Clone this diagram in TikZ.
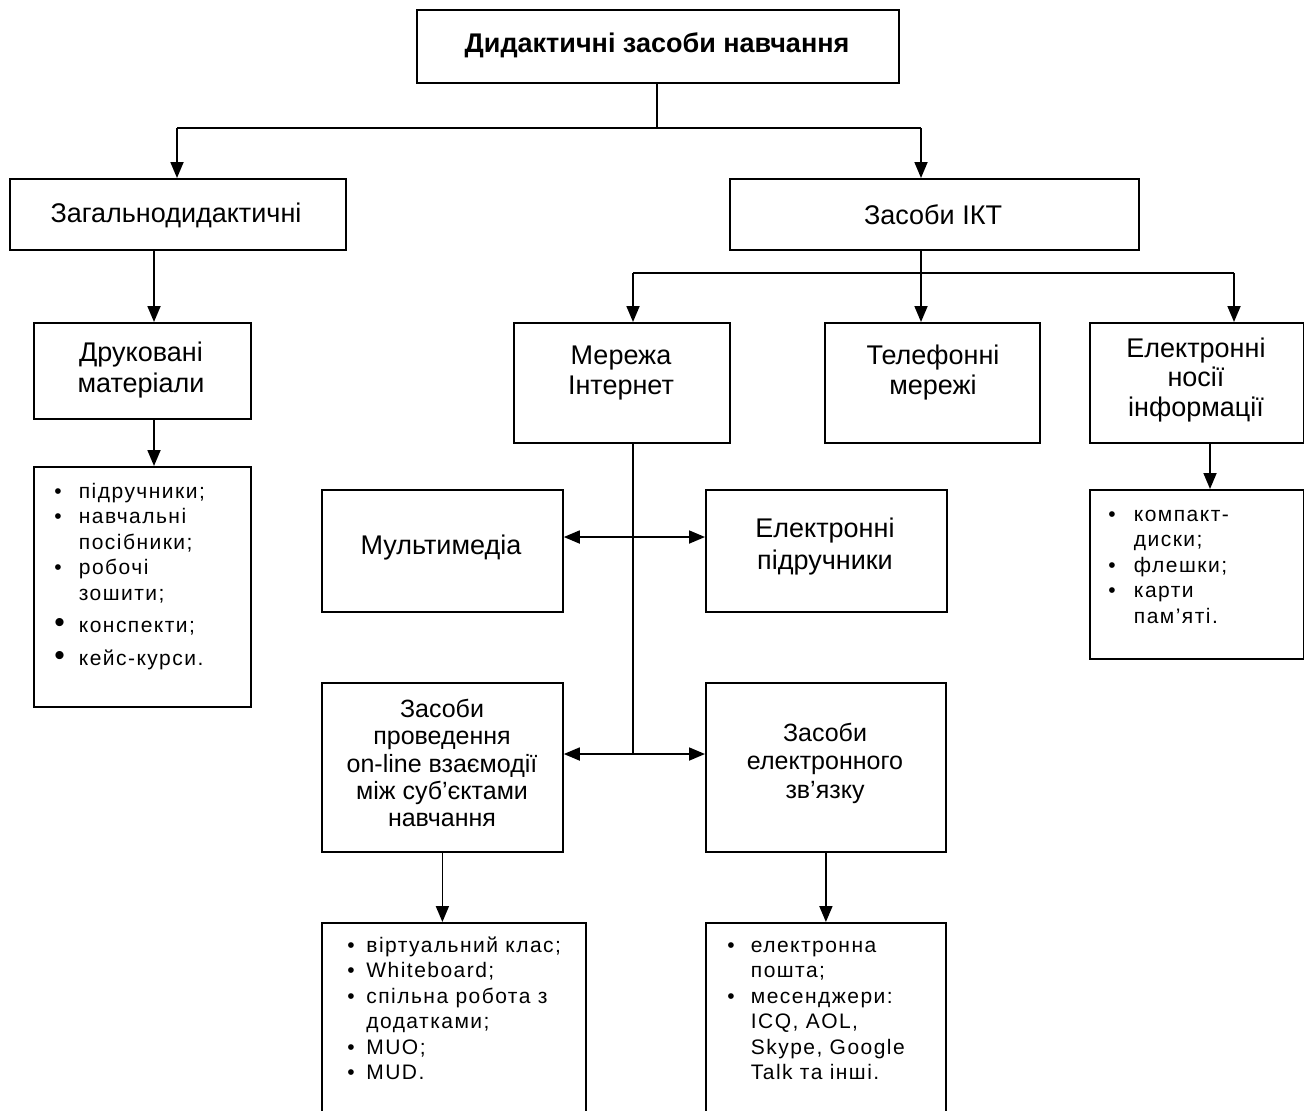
\documentclass[tikz,border=0pt]{standalone}
\usepackage{fontspec}
\setmainfont{Liberation Sans}
\usetikzlibrary{arrows.meta}
\newcommand{\bl}{\textbullet}
\newcommand{\bbl}{{\fontsize{15}{12}\selectfont\textbullet}}
\tikzset{
  frame/.style={draw, line width=0.9pt, inner sep=0pt, anchor=north west},
  lbl/.style={align=center, inner sep=0pt, font=\fontsize{13.5}{15.5}\selectfont},
  lst/.style={anchor=mid west, inner sep=0pt, font=\fontsize{10.5}{12.75}\selectfont\addfontfeature{LetterSpace=7}},
  conn/.style={line width=0.9pt},
  arr/.style={conn, -{Triangle[length=8pt,width=6.5pt]}},
  darr/.style={conn, {Triangle[length=8pt,width=6.5pt]}-{Triangle[length=8pt,width=6.5pt]}}
}
\begin{document}
\begin{tikzpicture}[x=0.5pt,y=-0.5pt]
\useasboundingbox (0,0) rectangle (1304,1110);
% frames
\node[frame, minimum width=241pt, minimum height=36.5pt] (top) at (416,9) {};
\node[frame, minimum width=168pt, minimum height=35.5pt] (zag) at (9,178) {};
\node[frame, minimum width=204.5pt, minimum height=35.5pt] (ikt) at (729,178) {};
\node[frame, minimum width=108.5pt, minimum height=48pt] (dru) at (33,322) {};
\node[frame, minimum width=108.5pt, minimum height=120pt] (druL) at (33,466) {};
\node[frame, minimum width=108pt, minimum height=60pt] (inet) at (513,322) {};
\node[frame, minimum width=107.5pt, minimum height=60pt] (tel) at (824,322) {};
\node[frame, minimum width=107pt, minimum height=60pt] (nos) at (1089,322) {};
\node[frame, minimum width=107pt, minimum height=84.5pt] (nosL) at (1089,489) {};
\node[frame, minimum width=120.5pt, minimum height=61pt] (mul) at (321,489) {};
\node[frame, minimum width=120.5pt, minimum height=61pt] (epid) at (705,489) {};
\node[frame, minimum width=120.5pt, minimum height=84.5pt] (prov) at (321,682) {};
\node[frame, minimum width=120pt, minimum height=84.5pt] (zv) at (705,682) {};
\node[frame, minimum width=132pt, minimum height=102pt] (provL) at (321,922) {};
\node[frame, minimum width=120pt, minimum height=102pt] (zvL) at (705,922) {};
% box texts
\node[lbl, font=\fontsize{13.5}{15.5}\selectfont\bfseries] (t-top) at (657,45) {Дидактичні засоби навчання};
\node[lbl] (t-zag) at (176,215) {Загальнодидактичні};
\node[lbl] (t-ikt) at (933,215) {Засоби ІКТ};
\node[lbl] (t-dru) at (141,370) {Друковані\\матеріали};
\node[lbl, font=\fontsize{13.5}{15}\selectfont] (t-inet) at (621,373) {Мережа\\Інтернет};
\node[lbl, font=\fontsize{13.5}{15}\selectfont] (t-tel) at (933,373) {Телефонні\\мережі};
\node[lbl, font=\fontsize{13.5}{14.75}\selectfont] (t-nos) at (1196,380) {Електронні\\носії\\інформації};
\node[lbl] (t-mul) at (441,548) {Мультимедіа};
\node[lbl, font=\fontsize{13.5}{16}\selectfont] (t-epid) at (825,547) {Електронні\\підручники};
\node[lbl, font=\fontsize{12.5}{13.65}\selectfont] (t-prov) at (442,763) {Засоби\\проведення\\on-line взаємодії\\між суб’єктами\\навчання};
\node[lbl, font=\fontsize{12.5}{14.25}\selectfont] (t-zv) at (825,763) {Засоби\\електронного\\зв’язку};
% lists
\node[lst] (l-dru) at (54,493) {\begin{tabular}[t]{@{}p{12.25pt}@{}l@{}}
\bl & підручники;\\
\bl & навчальні\\
 & посібники;\\
\bl & робочі\\
 & зошити;\\[3.5pt]
\bbl & конспекти;\\[3.5pt]
\bbl & кейс-курси.
\end{tabular}};
\node[lst] (l-nos) at (1108,516) {\begin{tabular}[t]{@{}p{12.75pt}@{}l@{}}
\bl & компакт-\\
 & диски;\\
\bl & флешки;\\
\bl & карти\\
 & пам’яті.
\end{tabular}};
\node[lst] (l-prov) at (347,947) {\begin{tabular}[t]{@{}p{9.5pt}@{}l@{}}
\bl & віртуальний клас;\\
\bl & Whiteboard;\\
\bl & спільна робота з\\
 & додатками;\\
\bl & MUO;\\
\bl & MUD.
\end{tabular}};
\node[lst] (l-zv) at (727,947) {\begin{tabular}[t]{@{}p{11.75pt}@{}l@{}}
\bl & електронна\\
 & пошта;\\
\bl & месенджери:\\
 & ICQ, AOL,\\
 & Skype, Google\\
 & Talk та інші.
\end{tabular}};
% connectors
\coordinate (j1) at (657,128);
\coordinate (jz) at (177,128);
\coordinate (ji) at (921,128);
\draw[conn] (j1 |- top.south) -- (j1);
\draw[conn] (jz) -- (ji);
\draw[arr] (jz) -- (jz |- zag.north);
\draw[arr] (ji) -- (ji |- ikt.north);
\coordinate (j2) at (921,273);
\coordinate (jn) at (633,273);
\coordinate (je) at (1234,273);
\draw[conn] (j2 |- ikt.south) -- (j2);
\draw[conn] (jn) -- (je);
\draw[arr] (jn) -- (jn |- inet.north);
\draw[arr] (j2) -- (j2 |- tel.north);
\draw[arr] (je) -- (je |- nos.north);
\coordinate (xd) at (154,300);
\draw[arr] (xd |- zag.south) -- (xd |- dru.north);
\draw[arr] (xd |- dru.south) -- (xd |- druL.north);
\coordinate (xn) at (1210,460);
\draw[arr] (xn |- nos.south) -- (xn |- nosL.north);
\coordinate (j4) at (633,537);
\coordinate (j3) at (633,754);
\draw[conn] (jn |- inet.south) -- (j3);
\draw[darr] (mul.east |- j4) -- (epid.west |- j4);
\draw[darr] (prov.east |- j3) -- (zv.west |- j3);
\draw[arr] (prov.south) -- (prov.south |- provL.north);
\draw[arr] (zv.south) -- (zv.south |- zvL.north);
\end{tikzpicture}
\end{document}
